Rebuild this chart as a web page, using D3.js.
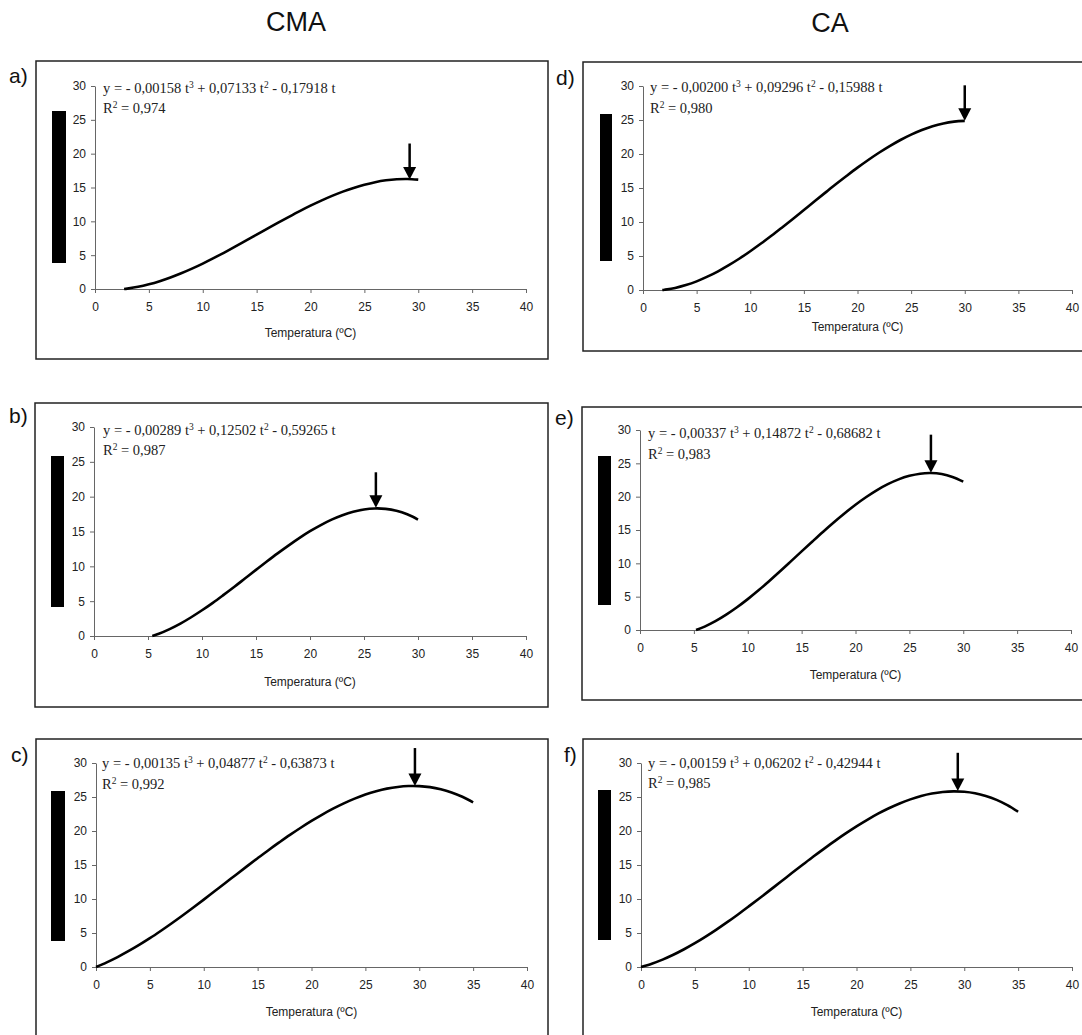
<!DOCTYPE html>
<html><head><meta charset="utf-8">
<script src="https://cdn.jsdelivr.net/npm/d3@7"></script>
<style>body{margin:0;background:#fff}</style>
</head><body><svg id="chart" width="1082" height="1035"></svg>
<script>
// ---- data ----
const columnTitles = ["CMA", "CA"];
const panelLabels = ["a)", "b)", "c)", "d)", "e)", "f)"];
const xTicks = [0, 5, 10, 15, 20, 25, 30, 35, 40];
const yTicks = [0, 5, 10, 15, 20, 25, 30];
const xTitle = "Temperatura (ºC)";

const coefT3 = ["0,00158", "0,00289", "0,00135", "0,00200", "0,00337", "0,00159"];
const coefT2 = ["0,07133", "0,12502", "0,04877", "0,09296", "0,14872", "0,06202"];
const coefT1 = ["0,17918", "0,59265", "0,63873", "0,15988", "0,68682", "0,42944"];
const rSquared = ["0,974", "0,987", "0,992", "0,980", "0,983", "0,985"];

const tA = [2.7,3,4,5,6,7,8,9,10,11,12,13,14,15,16,17,18,19,20,21,22,23,24,25,26,27,28,29,30];
const yA = [0,0.06,0.32,0.69,1.15,1.70,2.32,3.01,3.76,4.56,5.39,6.25,7.14,8.03,8.92,9.81,10.67,11.51,12.31,13.06,13.76,14.39,14.94,15.41,15.79,16.06,16.22,16.26,16.16];
const tB = [5.4,6,7,8,9,10,11,12,13,14,15,16,17,18,19,20,21,22,23,24,25,26,27,28,29,30];
const yB = [0,0.32,0.99,1.78,2.69,3.69,4.76,5.90,7.07,8.28,9.49,10.69,11.86,12.98,14.05,15.04,15.92,16.70,17.34,17.84,18.17,18.31,18.25,17.98,17.47,16.71];
const tC = [0,1,2,3,4,5,6,7,8,9,10,11,12,13,14,15,16,17,18,19,20,21,22,23,24,25,26,27,28,29,30,31,32,33,34,35];
const yC = [0,0.69,1.46,2.32,3.25,4.24,5.30,6.40,7.54,8.71,9.91,11.13,12.35,13.58,14.80,16.00,17.18,18.32,19.43,20.48,21.48,22.42,23.28,24.06,24.76,25.36,25.85,26.23,26.48,26.61,26.60,26.45,26.14,25.67,25.03,24.22];
const tD = [1.8,2,3,4,5,6,7,8,9,10,11,12,13,14,15,16,17,18,19,20,21,22,23,24,25,26,27,28,29,30];
const yD = [0,0.04,0.30,0.72,1.27,1.96,2.75,3.65,4.63,5.70,6.83,8.01,9.24,10.49,11.77,13.05,14.32,15.58,16.80,17.99,19.12,20.18,21.16,22.06,22.85,23.53,24.09,24.50,24.76,24.87];
const tE = [5.2,6,7,8,9,10,11,12,13,14,15,16,17,18,19,20,21,22,23,24,25,26,27,28,29,30];
const yE = [0,0.51,1.32,2.30,3.41,4.63,5.95,7.35,8.80,10.29,11.79,13.28,14.75,16.17,17.52,18.79,19.95,20.99,21.87,22.59,23.12,23.45,23.54,23.39,22.96,22.26];
const tF = [0,1,2,3,4,5,6,7,8,9,10,11,12,13,14,15,16,17,18,19,20,21,22,23,24,25,26,27,28,29,30,31,32,33,34,35];
const yF = [0,0.49,1.09,1.80,2.61,3.50,4.47,5.50,6.59,7.73,8.91,10.11,11.34,12.57,13.81,15.03,16.24,17.41,18.55,19.64,20.68,21.64,22.54,23.34,24.05,24.65,25.15,25.51,25.74,25.83,25.77,25.55,25.15,24.57,23.80,22.83];

const arrowT   = [29.2, 26.1, 29.6, 30.0, 27.0, 29.4];
const arrowTop = [21.5, 23.5, 32.2, 30.1, 29.3, 31.5];
const arrowTip = [16.2, 18.4, 26.6, 24.9, 23.6, 25.9];

const temps = [tA, tB, tC, tD, tE, tF];
const vals  = [yA, yB, yC, yD, yE, yF];

// ---- layout (pixel geometry, not data) ----
const layout = [
  {box:[36,61,548,359],  x:[95,526],  y:[289,86],  bar:[52,111,66,263],  eq:[103,93],  r2:[103,113], lab:[9,83],    pad:9,  titleY:337},
  {box:[35,403,548,707], x:[94,526],  y:[636,427], bar:[51,456,64,607],  eq:[103,435], r2:[103,455], lab:[9,423],   pad:9,  titleY:686},
  {box:[36,739,548,1045],x:[96,527],  y:[967,763], bar:[51,791,65,941],  eq:[102,768], r2:[102,789], lab:[11,762],  pad:9,  titleY:1016},
  {box:[583,62,1095,351],x:[643,1072],y:[290,86],  bar:[600,114,612,261],eq:[650,92],  r2:[650,113], lab:[556,85],  pad:9,  titleY:331},
  {box:[582,407,1095,700],x:[640,1071],y:[630,430],bar:[598,456,611,605],eq:[648,438], r2:[648,459], lab:[555,425], pad:9,  titleY:679},
  {box:[583,739,1095,1045],x:[641,1072],y:[967,763],bar:[598,790,611,940],eq:[648,768], r2:[648,788], lab:[564,762], pad:9,  titleY:1016}
];
const titlePos = [[296,31],[830,32]];

const svg = d3.select("#chart");
const sans = "'Liberation Sans', Arial, Helvetica, sans-serif";
const serif = "'Liberation Serif', 'Times New Roman', serif";

columnTitles.forEach((t, i) => {
  svg.append("text").attr("x", titlePos[i][0]).attr("y", titlePos[i][1])
    .attr("text-anchor", "middle").attr("font-family", sans).attr("font-size", 27)
    .attr("fill", "#111").text(t);
});

layout.forEach((L, i) => {
  const g = svg.append("g");
  g.append("rect").attr("x", L.box[0]).attr("y", L.box[1])
    .attr("width", L.box[2] - L.box[0]).attr("height", L.box[3] - L.box[1])
    .attr("fill", "none").attr("stroke", "#222").attr("stroke-width", 1.5);
  g.append("text").attr("x", L.lab[0]).attr("y", L.lab[1])
    .attr("font-family", sans).attr("font-size", 21).attr("fill", "#111").text(panelLabels[i]);

  const x = d3.scaleLinear().domain([0, 40]).range(L.x);
  const y = d3.scaleLinear().domain([0, 30]).range(L.y);

  const xa = g.append("g").attr("transform", `translate(0,${L.y[0]})`)
    .call(d3.axisBottom(x).tickValues(xTicks).tickSize(4).tickSizeOuter(0).tickPadding(L.pad));
  const ya = g.append("g").attr("transform", `translate(${L.x[0]},0)`)
    .call(d3.axisLeft(y).tickValues(yTicks).tickSize(4).tickSizeOuter(0).tickPadding(5));
  [xa, ya].forEach(a => {
    a.select(".domain").attr("stroke", "#666").attr("stroke-width", 1);
    a.selectAll(".tick line").attr("stroke", "#666");
    a.selectAll(".tick text").attr("font-family", sans).attr("font-size", 12).attr("fill", "#222");
  });

  g.append("text").attr("x", (L.x[0] + L.x[1]) / 2).attr("y", L.titleY)
    .attr("text-anchor", "middle").attr("font-family", sans).attr("font-size", 12)
    .attr("fill", "#222").text(xTitle);

  g.append("rect").attr("x", L.bar[0]).attr("y", L.bar[1])
    .attr("width", L.bar[2] - L.bar[0]).attr("height", L.bar[3] - L.bar[1]).attr("fill", "#000");

  const eq = g.append("text").attr("x", L.eq[0]).attr("y", L.eq[1])
    .attr("font-family", serif).attr("font-size", 14.5).attr("fill", "#222");
  eq.append("tspan").text(`y = - ${coefT3[i]} t`);
  eq.append("tspan").attr("dy", -5).attr("font-size", 9.5).text("3");
  eq.append("tspan").attr("dy", 5).text(` + ${coefT2[i]} t`);
  eq.append("tspan").attr("dy", -5).attr("font-size", 9.5).text("2");
  eq.append("tspan").attr("dy", 5).text(` - ${coefT1[i]} t`);

  const r2 = g.append("text").attr("x", L.r2[0]).attr("y", L.r2[1])
    .attr("font-family", serif).attr("font-size", 14.5).attr("fill", "#222");
  r2.append("tspan").text("R");
  r2.append("tspan").attr("dy", -5).attr("font-size", 9.5).text("2");
  r2.append("tspan").attr("dy", 5).text(` = ${rSquared[i]}`);

  const pts = temps[i].map((t, k) => [t, vals[i][k]]);
  g.append("path").datum(pts)
    .attr("d", d3.line().x(d => x(d[0])).y(d => y(d[1])).curve(d3.curveCatmullRom))
    .attr("fill", "none").attr("stroke", "#000").attr("stroke-width", 2.6)
    .attr("stroke-linejoin", "round");

  const ax = x(arrowT[i]), aTop = y(arrowTop[i]), aTip = y(arrowTip[i]);
  const headH = 12.5, headW = 6.5;
  g.append("line").attr("x1", ax).attr("x2", ax).attr("y1", aTop).attr("y2", aTip - headH + 1)
    .attr("stroke", "#000").attr("stroke-width", 2.5);
  g.append("path")
    .attr("d", `M${ax - headW},${aTip - headH}L${ax + headW},${aTip - headH}L${ax},${aTip}Z`)
    .attr("fill", "#000");
});
</script></body></html>
